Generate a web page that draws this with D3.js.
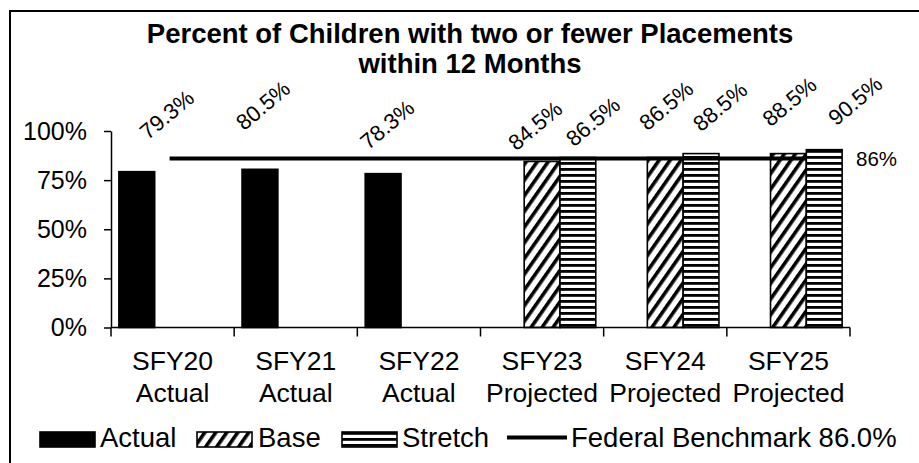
<!DOCTYPE html>
<html>
<head>
<meta charset="utf-8">
<script src="https://cdn.jsdelivr.net/npm/d3@7"></script>
<style>
  body { margin: 0; background: #fff; }
  text { font-family: "Liberation Sans", Arial, sans-serif; fill: #000; }
</style>
</head>
<body>
<div id="chart"></div>
<script>
// Chart data
const categories = ["SFY20", "SFY21", "SFY22", "SFY23", "SFY24", "SFY25"];
const subLabels = ["Actual", "Actual", "Actual", "Projected", "Projected", "Projected"];
const seriesNames = ["Actual", "Base", "Stretch"];
const actualValues = [79.3, 80.5, 78.3, null, null, null];
const baseValues = [null, null, null, 84.5, 86.5, 88.5];
const stretchValues = [null, null, null, 86.5, 88.5, 90.5];
const benchmark = 86;
const yTicks = [0, 25, 50, 75, 100];

// hand placed data labels in the original: [dx, dy] from bar top centre
const labelNudge = {
    Actual: [[30, -57], [3, -64], [4, -49]],
    Base: [[-7, -36], [1, -52], [1, -52]],
    Stretch: [[15, -36], [19, -47], [31, -49]]
};

const width = 919, height = 463;
const margin = { top: 131, left: 111, right: 69, bottom: 135 };

const svg = d3.select("#chart")
    .append("svg")
    .attr("width", width)
    .attr("height", height);

// patterns for the projected bars
const defs = svg.append("defs");
const hatch = defs.append("pattern")
    .attr("id", "hatchBase")
    .attr("patternUnits", "userSpaceOnUse")
    .attr("width", 9)
    .attr("height", 9)
    .attr("patternTransform", "rotate(35)");
hatch.append("rect").attr("width", 9).attr("height", 9).attr("fill", "#fff");
hatch.append("rect").attr("width", 3.6).attr("height", 9).attr("fill", "#000");

const stripes = defs.append("pattern")
    .attr("id", "stripesStretch")
    .attr("patternUnits", "userSpaceOnUse")
    .attr("width", 6)
    .attr("height", 6);
stripes.append("rect").attr("width", 6).attr("height", 6).attr("fill", "#fff");
stripes.append("rect").attr("width", 6).attr("height", 2.8).attr("fill", "#000");

const fills = { Actual: "#000", Base: "url(#hatchBase)", Stretch: "url(#stripesStretch)" };

// outer frame
svg.append("path")
    .attr("d", `M10,${height} L10,11 L${width},11`)
    .attr("fill", "none")
    .attr("stroke", "#000")
    .attr("stroke-width", 2);

// Title
const title = svg.append("text")
    .attr("text-anchor", "middle")
    .attr("font-weight", "bold")
    .attr("font-size", 27.5);
title.append("tspan").attr("x", 470).attr("y", 43).text("Percent of Children with two or fewer Placements");
title.append("tspan").attr("x", 470).attr("y", 73).text("within 12 Months");

// Scales
const x = d3.scaleBand()
    .domain(categories)
    .range([margin.left, width - margin.right])
    .padding(0);

const xInner = d3.scaleBand()
    .domain(seriesNames)
    .range([0, x.bandwidth()])
    .paddingInner(0)
    .paddingOuter(0.22);

const y = d3.scaleLinear()
    .domain([0, 100])
    .range([327.5, margin.top]);

// Y axis
const yAxis = svg.append("g")
    .attr("transform", `translate(${margin.left},0)`)
    .call(d3.axisLeft(y).tickValues(yTicks).tickSize(7).tickSizeOuter(0).tickFormat(d => d + "%"));
yAxis.select(".domain").attr("stroke-width", 1.5);
yAxis.selectAll(".tick line").attr("stroke-width", 1.5);
yAxis.selectAll(".tick text")
    .attr("x", -24)
    .attr("font-size", 25)
    .attr("font-family", "Liberation Sans, Arial, sans-serif");

// Bars
const seriesData = [
    { name: "Actual", values: actualValues },
    { name: "Base", values: baseValues },
    { name: "Stretch", values: stretchValues }
];

const barRows = [];
seriesData.forEach(s => {
    let k = 0;
    s.values.forEach((v, i) => {
        if (v == null) return;
        barRows.push({ series: s.name, cat: categories[i], value: v, nudge: labelNudge[s.name][k] });
        k++;
    });
});

svg.append("g")
    .selectAll("rect")
    .data(barRows)
    .enter()
    .append("rect")
    .attr("x", d => x(d.cat) + xInner(d.series))
    .attr("y", d => y(d.value))
    .attr("width", xInner.bandwidth())
    .attr("height", d => y(0) - y(d.value))
    .attr("fill", d => fills[d.series])
    .attr("stroke", "#000")
    .attr("stroke-width", 1.6);

// X axis line and boundary ticks
const xAxis = svg.append("g");
const boundaries = categories.map(c => x(c)).concat([x.range()[1]]);
xAxis.append("line")
    .attr("x1", margin.left)
    .attr("x2", x.range()[1])
    .attr("y1", y(0))
    .attr("y2", y(0))
    .attr("stroke", "#000")
    .attr("stroke-width", 1.5);
xAxis.selectAll(".xtick")
    .data(boundaries)
    .enter()
    .append("line")
    .attr("x1", d => d)
    .attr("x2", d => d)
    .attr("y1", y(0))
    .attr("y2", y(0) + 9)
    .attr("stroke", "#000")
    .attr("stroke-width", 1.5);

const catLabels = xAxis.selectAll(".catlabel")
    .data(categories)
    .enter()
    .append("text")
    .attr("text-anchor", "middle")
    .attr("font-size", 26.5);
catLabels.append("tspan")
    .attr("x", d => x(d) + x.bandwidth() / 2)
    .attr("y", 370)
    .text(d => d);
catLabels.append("tspan")
    .attr("x", d => x(d) + x.bandwidth() / 2)
    .attr("y", 402)
    .text((d, i) => subLabels[i]);

// Federal benchmark line (drawn over the bars)
svg.append("line")
    .attr("x1", x(categories[0]) + x.bandwidth() / 2 - 3)
    .attr("x2", x(categories[categories.length - 1]) + xInner("Stretch"))
    .attr("y1", y(benchmark))
    .attr("y2", y(benchmark))
    .attr("stroke", "#000")
    .attr("stroke-width", 4);

svg.append("text")
    .attr("x", x.range()[1] + 6)
    .attr("y", y(benchmark) + 7)
    .attr("font-size", 20.5)
    .text(benchmark + "%");

// Data labels, rotated
svg.append("g")
    .selectAll("text")
    .data(barRows)
    .enter()
    .append("text")
    .attr("font-size", 22)
    .attr("text-anchor", "middle")
    .attr("dy", "0.35em")
    .attr("transform", d => {
        const cx = x(d.cat) + xInner(d.series) + xInner.bandwidth() / 2 + d.nudge[0];
        const cy = y(d.value) + d.nudge[1];
        return "translate(" + cx + "," + cy + ") rotate(-40)";
    })
    .text(d => d.value.toFixed(1) + "%");

// Legend
const legendY = 432;
const legend = svg.append("g");
const legendItems = [
    { name: "Actual", x: 40, textX: 100 },
    { name: "Base", x: 197, textX: 258 },
    { name: "Stretch", x: 342, textX: 402 }
];
legendItems.forEach(it => {
    legend.append("rect")
        .attr("x", it.x)
        .attr("y", legendY)
        .attr("width", 55)
        .attr("height", 15)
        .attr("fill", fills[it.name])
        .attr("stroke", "#000")
        .attr("stroke-width", 1.6);
    legend.append("text")
        .attr("x", it.textX)
        .attr("y", 447)
        .attr("font-size", 27.5)
        .text(it.name);
});
legend.append("line")
    .attr("x1", 507)
    .attr("x2", 567)
    .attr("y1", 437.5)
    .attr("y2", 437.5)
    .attr("stroke", "#000")
    .attr("stroke-width", 4);
legend.append("text")
    .attr("x", 571)
    .attr("y", 447)
    .attr("font-size", 27.5)
    .text("Federal Benchmark " + benchmark.toFixed(1) + "%");
</script>
</body>
</html>
